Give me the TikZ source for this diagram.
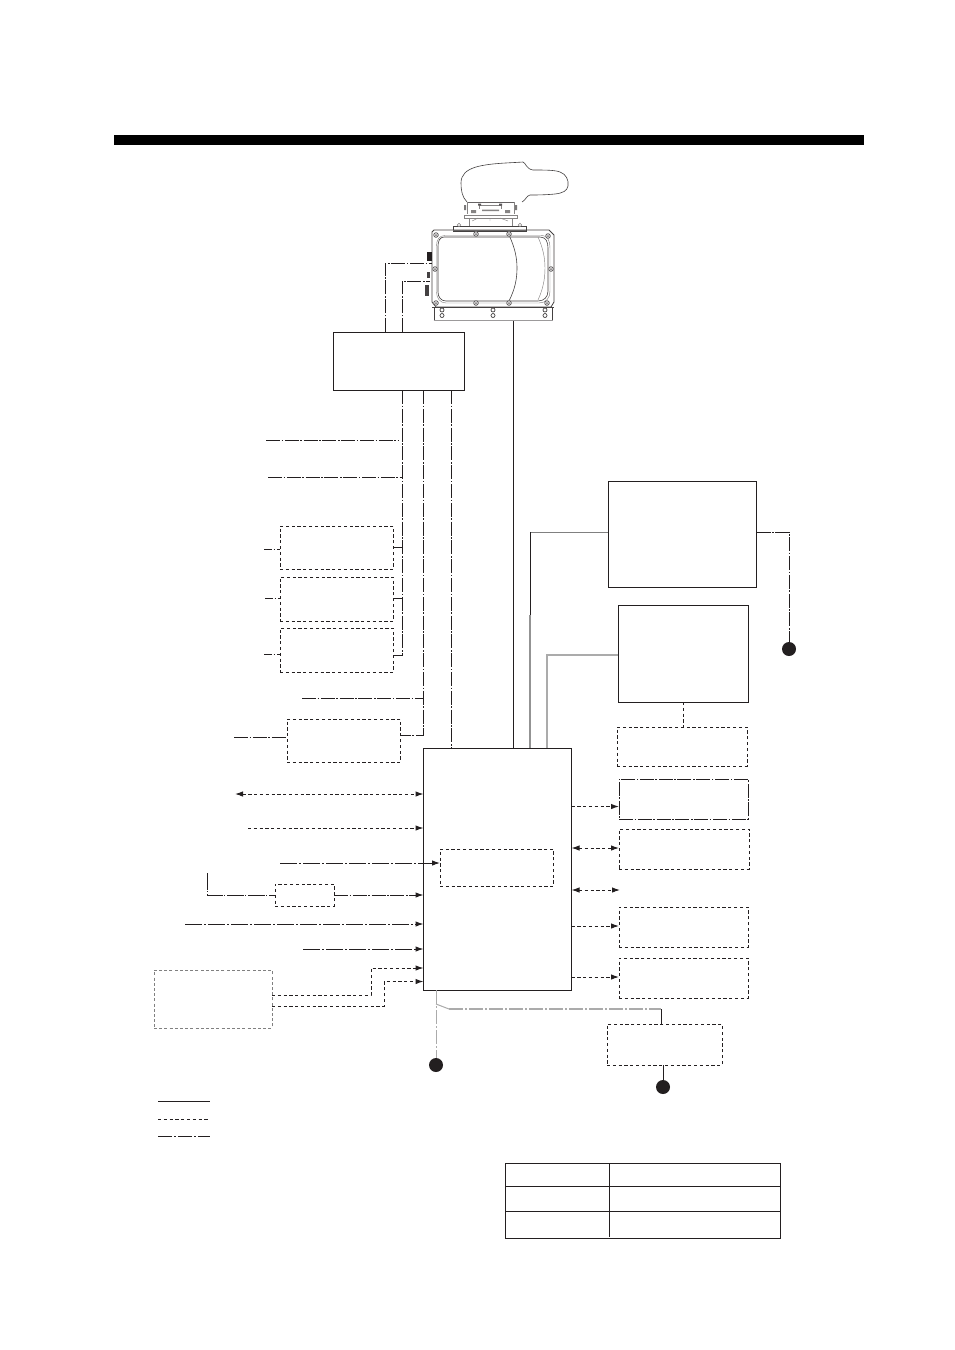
\documentclass[tikz,border=0pt]{standalone}
\usetikzlibrary{arrows.meta}
\definecolor{ink}{HTML}{231F20}
\definecolor{midgray}{HTML}{808080}
\definecolor{ltgray}{HTML}{ABABAB}
\tikzset{
  conn/.style={draw=ink,line width=1pt},
  dashline/.style={conn,dash pattern=on 3.2pt off 2.6pt},
  chain/.style={draw=ink,line width=1pt,dash pattern=on 14pt off 1.6pt on 1.6pt off 1.6pt},
  shortchain/.style={draw=ink,line width=1pt,dash pattern=on 8pt off 1.6pt on 1.6pt off 1.6pt},
  longchain/.style={draw=ink,line width=1pt,dash pattern=on 17pt off 2pt on 2pt off 2pt},
  grayconn/.style={draw=midgray,line width=1pt},
  graychain/.style={draw=ltgray,line width=1.5pt,dash pattern=on 14pt off 2pt on 2pt off 2pt},
  tip/.style={-{Latex[length=8pt,width=5.5pt]}},
  tips/.style={{Latex[length=8pt,width=5.5pt]}-{Latex[length=8pt,width=5.5pt]}},
  solidbox/.style={draw=ink,line width=1pt},
  dashbox/.style={draw=ink,line width=1pt,dash pattern=on 3.2pt off 2.6pt},
  chainbox/.style={draw=ink,line width=1pt,dash pattern=on 14pt off 1.6pt on 1.6pt off 1.6pt},
  graybox/.style={draw=midgray,line width=1pt,dash pattern=on 3pt off 2.2pt},
  dot/.style={circle,fill=ink,draw=none,minimum size=14pt,inner sep=0pt,outer sep=0pt},
  fine/.style={draw=ink!85,line width=.6pt},
  hair/.style={draw=ink!55,line width=.45pt},
}
\newcommand{\mybox}[6][solidbox]{%
  \node[#1,anchor=north west,inner sep=0pt,outer sep=0pt,
        minimum width={(#5-#3)*1pt},minimum height={(#6-#4)*1pt}] (#2) at (#3,#4) {};}
\begin{document}
\begin{tikzpicture}[x=1pt,y=-1pt]
\useasboundingbox (0,0) rectangle (954,1350);
\fill[white] (0,0) rectangle (954,1350);
\fill[black] (114,135) rectangle (863.5,145);

% ---- antenna -------------------------------------------------
\draw[fine] (467,202) .. controls (462,197) and (461,190) .. (461,183)
  .. controls (461,175) and (466,170) .. (476,167)
  .. controls (490,163) and (510,163) .. (523,162)
  .. controls (526,163) and (526,169) .. (533,170)
  .. controls (545,170) and (555,170) .. (560,172)
  .. controls (566,174) and (569,180) .. (568,186)
  .. controls (567,191) and (563,193) .. (555,194)
  .. controls (545,195) and (535,195) .. (530,195)
  .. controls (526,196) and (526,200) .. (522,202);
% pedestal
\draw[draw=ink!70,line width=.9pt] (467,202) -- (514,202);
\draw[hair] (467,202) -- (467,214) (514,202) -- (514,214);
\draw[hair] (464,215) -- (517,215) -- (517,218) -- (464,218) -- cycle;
\draw[hair] (469,218) -- (469,226) (512,218) -- (512,226);
\draw[hair] (479,205) -- (479,209) (501,205) -- (501,209) (479,205) -- (501,205);
\draw[hair] (472,221) -- (478,218) (490,218) -- (490,221) (500,218) -- (508,221);
\fill[ink!75] (478,203.5) rectangle (481,205.5) (499,203.5) rectangle (502,205.5);
\fill[ink!55] (471,210) rectangle (476,213) (505,210) rectangle (510,213) (482,209.5) rectangle (499,211);
\fill[ink!60] (464,205) rectangle (466,210) (515,205) rectangle (517,210);
\draw[fine] (453,226) rectangle (526,231);
\fill[ink!60] (453,229.5) rectangle (526,231);
\draw[hair] (459,225) circle (1.8pt) (520,225) circle (1.8pt);
% housing
\node[draw=none,anchor=north west,inner sep=0pt,outer sep=0pt,minimum width=120pt,minimum height=14pt] (ant) at (433,307) {};
\draw[fine,line width=.8pt] (434,230) -- (549,230) -- (554,235) -- (554,302) -- (551,307) -- (436,307) -- (432,302) -- (432,232) -- cycle;
\draw[fine] (444,237) -- (540,237) .. controls (546,237) and (548,242) .. (548,248) -- (548,291) .. controls (548,297) and (544,301) .. (538,301) -- (446,301) .. controls (441,301) and (438,297) .. (438,292) -- (438,246) .. controls (438,241) and (440,237) .. (444,237);
\draw[hair] (445,235.5) -- (541,235.5) .. controls (548,235.5) and (550,241) .. (550,248) -- (550,291) .. controls (550,298) and (546,303) .. (539,303) -- (446,303) .. controls (440,303) and (436.5,298) .. (436.5,292) -- (436.5,246) .. controls (436.5,240) and (439,235.5) .. (445,235.5);
\draw[fine] (509,235) .. controls (515,248) and (517,258) .. (517,268) .. controls (517,279) and (515,289) .. (509,301);
\draw[hair] (538,237) .. controls (543,248) and (545,258) .. (545,268) .. controls (545,279) and (543,289) .. (538,300);
\foreach \x/\y in {436/235,476/234,509/234,548/236,435/269,551/269,436/303,476/303,509/303,547/303} {
  \fill[white] (\x,\y) circle (2.6pt);
  \draw[draw=ink!80,line width=.75pt] (\x,\y) circle (2.3pt);
  \fill[ink!65] (\x,\y) circle (1pt);
}
% bracket
\draw[fine] (434,307) -- (434,320) (552.5,307) -- (552.5,320);
\draw[draw=ink!45,line width=1.1pt] (433.5,320.5) -- (553,320.5);
\draw[fine,line width=.9pt] (432,307) -- (554,307);
\foreach \x in {442,493,545} {
  \draw[draw=ink!85,line width=.7pt] (\x,310) circle (2pt) (\x,315.5) circle (2pt);
}
% side connectors
\fill[ink] (427,252) rectangle (432,261);
\fill[ink!85] (427,272) rectangle (430,278);
\fill[ink!85] (425,285) rectangle (429,296);
\coordinate (sock1) at (432,263);
\coordinate (sock2) at (430,281);
\coordinate (antfoot) at (513,321);

% ---- boxes ---------------------------------------------------
\mybox{power}{333}{332}{464.5}{390}
\mybox{main}{423.5}{748}{571.5}{990}
\mybox[dashbox]{inner}{440}{849}{553.5}{886}
\mybox{dispA}{608}{481}{756.5}{587}
\mybox{dispB}{618}{605}{748}{702}
\mybox[dashbox]{boxC}{617}{727}{747}{766}
\mybox[chainbox]{boxD}{619}{779}{748}{819}
\mybox[dashbox]{boxE}{619}{829}{749}{869}
\mybox[dashbox]{boxF}{619}{907}{748}{947}
\mybox[dashbox]{boxG}{619}{958}{748}{998}
\mybox[dashbox]{boxH}{607}{1024}{722}{1065}
\mybox[dashbox]{leftA}{280}{526}{393.5}{569}
\mybox[dashbox]{leftB}{280}{577}{393.5}{621}
\mybox[dashbox]{leftC}{280}{628}{393.5}{672}
\mybox[dashbox]{leftD}{287}{719}{400.5}{762}
\mybox[dashbox]{smallbox}{275}{884}{334}{906}
\mybox[graybox]{sensor}{154}{970}{272}{1028}
\node[dot] (dotA) at (789,649) {};
\node[dot] (dotB) at (436,1065) {};
\node[dot] (dotC) at (663,1087) {};

% ---- free ends and bends ------------------------------------
\foreach \n/\x/\y in {
  f1/266/440, f2/268/477, f3/264/549, f4/265/598, f5/264/654, f6/302/698, f7/234/737,
  f8/235/794, f9/248/828, f10/280/863, f11/207/873, f12/185/924, f13/303/949,
  bus1/402/547, bus2/402/598, bus3/402/655, bus4/402/440, bus5/402/477,
  bus6/423/698, bus7/423/735, up1/385/332, up2/402/332, dn1/402/390, dn2/423/390, dn3/451/390,
  ya/0/895, yb/0/968, yc/0/981.5, yd/0/995, ye/0/1006,
  ra/0/806.5, rb/0/848, rc/0/890, rd/0/926, re/0/977, rf/620/890,
  cab/530/532, cabm/530/615, cbb/547/655, cr/789/532,
  j1/436/1004, j2/449/1009, j3/661/1009 } {
  \coordinate (\n) at (\x,\y);
}

% ---- connectors ---------------------------------------------
\draw[chain] (up1) |- (sock1);
\draw[chain] (up2) |- (sock2);
\draw[conn] (antfoot) -- (main.north -| antfoot);
\draw[chain] (dn1) -- (bus3) -- (leftC.east |- bus3);
\draw[chain] (dn2) -- (bus7) -- (leftD.east |- bus7);
\draw[chain] (dn3) -- (main.north -| dn3);
\draw[chain] (f1) -- (399,440);
\draw[chain] (f2) -- (bus5);
\draw[conn] (leftA.east |- bus1) -- (bus1);
\draw[conn] (leftB.east |- bus2) -- (bus2);
\draw[shortchain] (f3) -- (leftA.west |- f3);
\draw[shortchain] (f4) -- (leftB.west |- f4);
\draw[shortchain] (f5) -- (leftC.west |- f5);
\draw[chain] (f6) -- (bus6);
\draw[chain] (f7) -- (leftD.west |- f7);

\draw[dashline,tips] (f8) -- (main.west |- f8);
\draw[dashline,tip] (f9) -- (main.west |- f9);
\draw[longchain,tip] (f10) -- (inner.west |- f10);
\draw[conn,dash pattern=on 17pt off 1pt on 1pt off 2pt] (f11) |- (smallbox.west |- ya);
\draw[chain,tip] (smallbox.east |- ya) -- (main.west |- ya);
\draw[longchain,tip] (f12) -- (main.west |- f12);
\draw[longchain,tip] (f13) -- (main.west |- f13);
\draw[dashline,tip] (sensor.east |- yd) -- (371,995) -- (371,968) -- (main.west |- yb);
\draw[dashline,tip] (sensor.east |- ye) -- (384,1006) -- (384,981.5) -- (main.west |- yc);

\draw[dashline,tip] (main.east |- ra) -- (boxD.west |- ra);
\draw[dashline,tips] (main.east |- rb) -- (boxE.west |- rb);
\draw[dashline,tips] (main.east |- rc) -- (rf);
\draw[dashline,tip] (main.east |- rd) -- (boxF.west |- rd);
\draw[dashline,tip] (main.east |- re) -- (boxG.west |- re);
\draw[dashline] (dispB.south) -- (boxC.north -| dispB.south);

\draw[grayconn] (dispA.west |- cab) -- (cab);
\draw[conn] (cab) -- (cabm);
\draw[draw=midgray!85,line width=1.1pt] (cabm) -- (main.north -| cabm);
\draw[draw=ltgray,line width=1.3pt] (dispB.west |- cbb) -- (cbb) -- (main.north -| cbb);
\draw[chain] (dispA.east |- cr) -- (cr) -- (dotA);
\draw[draw=ltgray,line width=1pt,dash pattern=on 14pt off 2pt on 2pt off 2pt] (main.south -| dotB) -- (dotB);
\draw[draw=ltgray,line width=1pt] (j1) -- (j2);
\draw[graychain] (j2) -- (j3);
\draw[conn] (j3) -- (boxH.north -| j3);
\draw[conn] (boxH.south -| dotC) -- (dotC);

% ---- legend --------------------------------------------------
\coordinate (lg1a) at (158,1101); \coordinate (lg1b) at (210,1101);
\coordinate (lg2a) at (158,1119); \coordinate (lg2b) at (210,1119);
\coordinate (lg3a) at (158,1136); \coordinate (lg3b) at (210,1136);
\draw[conn] (lg1a) -- (lg1b);
\draw[dashline] (lg2a) -- (lg2b);
\draw[conn,dash pattern=on 14pt off 2pt on 2pt off 2pt] (lg3a) -- (lg3b);

% ---- table ---------------------------------------------------
\draw[conn] (505,1163) rectangle (780,1238);
\draw[conn] (505,1186) -- (780,1186) (505,1211) -- (780,1211);
\draw[conn] (609,1163) -- (609,1236.5);
\end{tikzpicture}
\end{document}
